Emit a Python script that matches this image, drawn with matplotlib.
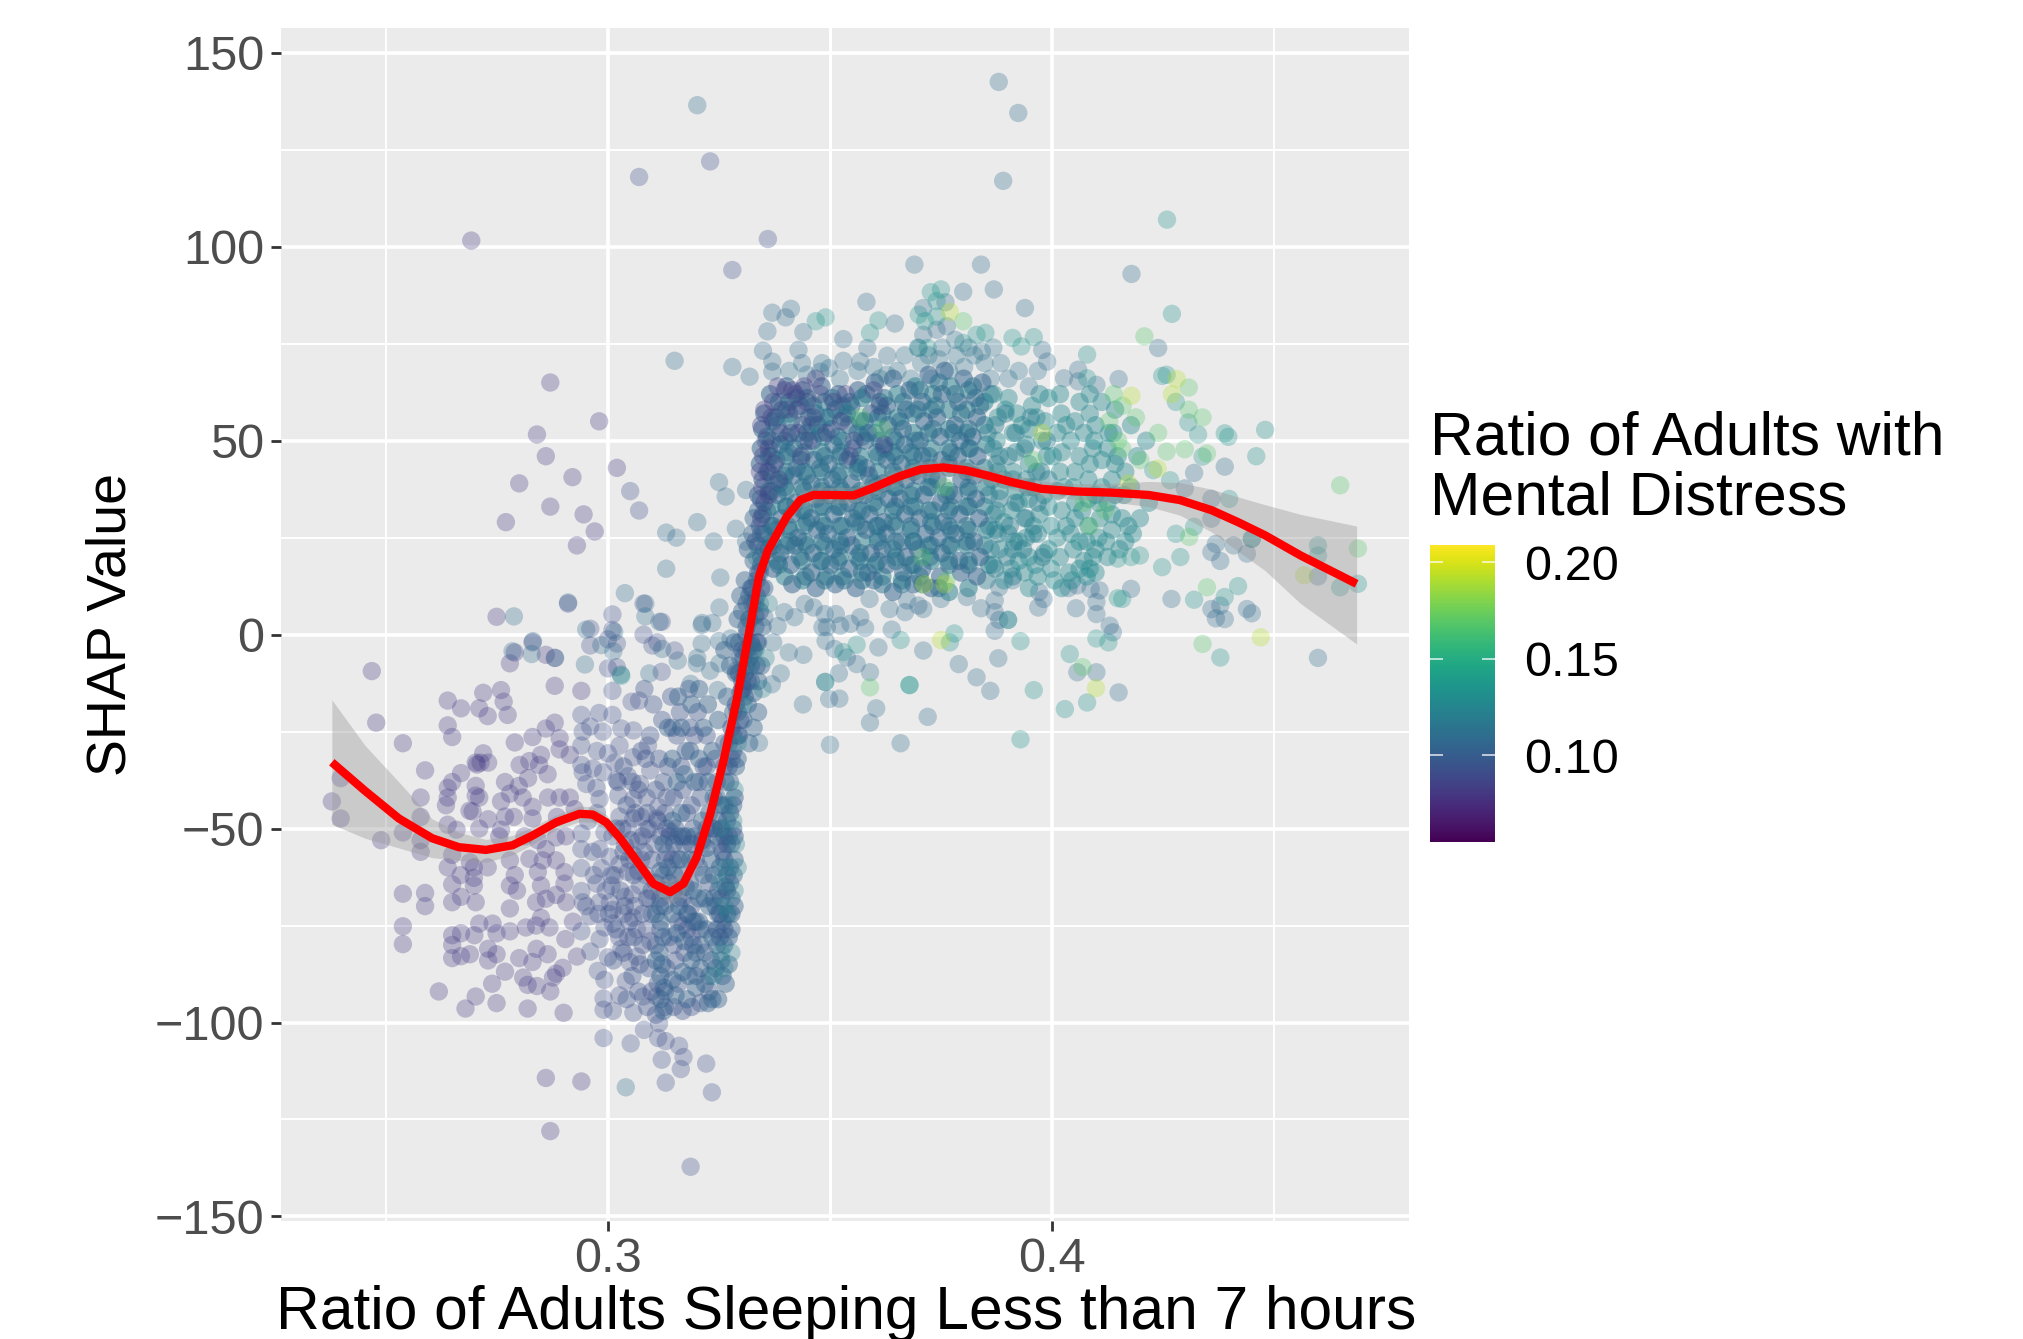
"""SHAP dependence plot: sleep ratio vs SHAP value, coloured by mental distress."""

import matplotlib
matplotlib.use("Agg")
import matplotlib.pyplot as plt
from matplotlib.cm import ScalarMappable
from matplotlib.colors import Normalize
from matplotlib.ticker import FixedLocator

plt.rcParams["font.family"] = ["Liberation Sans", "DejaVu Sans"]

W, H = 2023, 1339
MD_MIN, MD_MAX = 0.0554, 0.2092

X_MAJOR = [0.3, 0.4]
X_MINOR = [0.25, 0.35, 0.45]
Y_MAJOR = [-150, -100, -50, 0, 50, 100, 150]
Y_MINOR = [-125, -75, -25, 25, 75, 125]
Y_LABELS = ["\u2212150", "\u2212100", "\u221250", "0", "50", "100", "150"]
CBAR_TICKS = [0.10, 0.15, 0.20]

SMOOTH_X = [.2378, .2453, .2529, .2604, .2664, .2725, .2785, .2830, .2883, .2936, .2966, .2996, .3026, .3064, .3102,
            .3140, .3170, .3200, .3230, .3260, .3290, .3320, .3340, .3360, .3377, .3402, .3433, .3463, .3503, .3553,
            .3594, .3654, .3704, .3755, .3805, .3855, .3906, .3976, .4057, .4137, .4218, .4288, .4359, .4419, .4480,
            .4560, .4686]
SMOOTH_Y = [-32.9, -40.3, -47.4, -52.5, -54.8, -55.5, -54.3, -51.8, -48.4, -46.2, -46.4, -48.4, -52.3, -58.2, -64.2,
            -66.4, -64.2, -57.3, -46.4, -32.6, -16.8, 2, 15, 21.7, 25.2, 30.3, 34.7, 36, 36, 35.9,
            37.7, 40.7, 42.6, 43.1, 42.4, 41, 39.4, 37.6, 36.9, 36.6, 36, 34.7, 32.1, 29, 25.6,
            20.4, 13.1]
BAND_HI = [-16.8, -28.6, -38, -47.5, -51, -52.8, -51.8, -49.5, -46.5, -44.2, -44.4, -46.4, -50.3, -56.2, -62.2,
           -63.4, -61.2, -54.3, -43.4, -29.6, -14, 4.5, 17, 24, 27.2, 32.3, 36.7, 38, 38, 37.9,
           39.7, 42.7, 44.6, 45.1, 44.4, 43, 41.4, 39.6, 38.9, 39, 39.5, 39.2, 37.5, 35.5, 33.5,
           31, 28]
BAND_LO = [-48.9, -52.5, -55, -57.5, -58.2, -58.7, -56.8, -54.1, -50.3, -48.2, -48.4, -50.4, -54.3, -60.2, -66.2,
           -69.4, -67.2, -60.3, -49.4, -35.6, -19.6, -0.5, 13, 19.4, 23.2, 28.3, 32.7, 34, 34, 33.9,
           35.7, 38.7, 40.6, 41.1, 40.4, 39, 37.4, 35.6, 34.9, 34.2, 33, 30.8, 26.5, 21.5, 16.5,
           8, -2.4]

# each group shares one mental-distress value
SPARSE_PURPLE_MD = 0.082
SPARSE_PURPLE = [
    (.2692,101.6),(.287,65),(.298,55),(.284,51.6),(.286,46),(.302,43),(.280,39),(.292,40.6),(.287,33),(.277,29),
    (.2945,31),(.297,26.6),(.293,23),(.2468,-9.4),(.2478,-22.7),(.2538,-28),(.2398,-37),(.2378,-43),(.2398,-47.4),
    (.2489,-53),(.2588,-35),(.2578,-42),(.2578,-47),(.2538,-51),(.2578,-53),(.2578,-56),(.2639,-17),(.2669,-19),
    (.2639,-23.4),(.2649,-26.4),(.2710,-19),(.2719,-15),(.2729,-21),(.2759,-14.3),(.2765,-17.3),(.2774,-20.7),
    (.2749,4.6),(.2779,-7.4),(.2790,-4.6),(.2830,-2),(.2860,-5.2),(.2880,-6),(.2880,-13.2),(.2940,-14.5),(.2910,8),
    (.2639,-39.5),(.2649,-38),(.2669,-35.7),(.2639,-42),(.2702,-33),(.2705,-33.5),(.2719,-30.6),(.2713,-33),(.273,-33),
    (.2702,-39),(.2702,-41.5),(.271,-42),(.2695,-45.6),(.2688,-45.4),(.273,-47.6),(.271,-50),(.2639,-49),(.2659,-50.3),
    (.2649,-56.8),(.2639,-60),(.2689,-58.7),(.2698,-60),(.2698,-62.7),(.2698,-64.7),(.2729,-60),(.2649,-64.4),
    (.2669,-67.6),(.2649,-69),(.2702,-69),(.2538,-66.8),(.2588,-66.6),(.2588,-70),(.2538,-75.2),(.2538,-79.8),
    (.2649,-77.5),(.2649,-80),(.2649,-83.4),(.2669,-77),(.2669,-82.9),(.2689,-82.4),(.2699,-77.5),(.271,-74.5),
    (.273,-81),(.273,-84),(.2749,-82.4),(.274,-74.5),(.2749,-77),(.2779,-76.5),(.2779,-70.6),(.2779,-64.7),(.2779,-58.2),
    (.2768,-38),(.2759,-43),(.2779,-41),(.2799,-39),(.2808,-42),(.2768,-46.9),(.2759,-50.3),(.279,-27.8),(.283,-26.4),
    (.286,-24.2),(.288,-22.7),(.2891,-26.7),(.2849,-31),(.2801,-33.6),(.2823,-32.6),(.2845,-33.6),(.2864,-36),
    (.2891,-29.6),(.2914,-31),(.283,-44.4),(.283,-47.4),(.2891,-42),(.2914,-42),(.2883,-52.3),(.286,-55.3),(.2883,-58.2),
    (.2823,-57.8),(.2853,-58.2),(.2842,-61.2),(.2849,-64.7),(.2902,-61.2),(.2902,-64.2),(.2883,-67.1),(.286,-68.1),
    (.2838,-69),(.2906,-69),(.2815,-75.5),(.2838,-75),(.2868,-75.5),(.2849,-73),(.2921,-74),(.2904,-78.5),(.2839,-81),
    (.28,-83.4),(.283,-84.4),(.2864,-82.4),(.293,-83),(.2768,-86.9),(.2739,-90),(.2809,-88.4),(.2819,-90.3),(.2840,-90.6),
    (.2870,-92),(.2876,-88.4),(.2898,-85.9),(.2883,-87.4),(.2619,-92),(.2702,-93.3),(.2679,-96.4),(.2749,-95),(.2819,-96.4),
    (.29,-97.5),(.287,-128),(.294,-115.2),(.286,-114.3),(.279,-62),(.2795,-66),(.2755,-52),(.2635,-44),(.2668,-62),
    (.2925,-45),(.2905,-52),(.2885,-47),(.2865,-42),(.282,-37),(.2788,-47),(.2812,-52),(.2842,-53),
]

MID_PURPLE_MD = 0.092
MID_PURPLE = [
    (.307,118),(.323,122),(.336,102),(.328,94),(.305,37),(.307,32),(.296,1.5),(.296,-2.8),(.301,5.2),(.301,1.2),(.3,-1.2),
    (.302,-2.3),(.3,-8.7),(.302,-8.4),(.301,-14.5),(.308,8),(.3121,3.3),(.308,0),(.31,-2.8),(.3111,-2),(.315,-4.1),
    (.3121,-9.6),(.294,-20.7),(.296,-23.7),(.298,-20.2),(.301,-20.7),(.2943,-25),(.2988,-25),(.303,-24.2),(.3053,-17.3),
    (.307,-17),(.3057,-24.7),(.294,-28.6),(.3,-30.6),(.3026,-28.6),(.309,-28.6),(.3057,-31.6),(.2943,-35.5),(.2966,-34.5),
    (.2989,-35.5),(.294,-33.6),(.3045,-36.5),(.3072,-38.5),(.3019,-37.5),(.2974,-39.5),(.2951,-38.5),(.2981,-42.4),
    (.3023,-41.5),(.3057,-42.4),(.3087,-42),(.3113,-44.4),(.3132,-42),(.3026,-46.9),(.3057,-47.4),(.3087,-50.3),
    (.311,-47.4),(.314,-50.8),(.3132,-56.3),(.3068,-53.3),(.3038,-54.3),(.294,-51.3),(.294,-55.3),(.294,-60.2),
    (.2981,-55.3),(.3004,-57.3),(.3026,-59.2),(.2985,-60.2),(.2974,-64.2),(.3008,-64.7),(.3045,-61.2),(.3072,-64.7),
    (.3038,-67.6),(.3004,-69),(.2981,-69),(.306,-70),(.3094,-68.1),(.294,-66.1),(.2943,-69),(.296,-72.6),(.294,-76.5),
    (.2992,-75.5),(.3011,-71),(.3045,-78),(.3087,-76),(.3011,-74.5),(.3057,-73),(.296,-81.7),(.3,-83.2),(.3049,-84.4),
    (.2981,-78.5),(.3030,-81),(.2977,-86.7),(.2992,-89),(.299,-93.8),(.299,-96.7),(.3011,-97),(.3026,-93),(.304,-89.3),
    (.3057,-97.5),(.3079,-93.3),(.3109,-93.3),(.299,-104),(.3051,-105.4),(.3081,-101.9),(.3115,-100.2),(.3113,-104),
    (.313,-104.8),(.316,-106),(.317,-108.9),(.3164,-112),(.3121,-109.6),(.3221,-110.6),(.3234,-118),(.313,-115.5),
    (.3186,-137.2),(.2951,-70),(.2968,-62),(.2992,-51),(.2975,-46),(.3015,-62),(.3035,-72),(.3075,-58),(.3055,-67),
    (.2965,-56),(.2955,-48),(.2975,-30),(.3015,-33),(.3095,-35),(.3105,-54),(.3085,-62),(.3025,-78),(.3065,-83),
    (.3010,-52),(.3045,-50),(.2995,-66),(.3058,-57),(.3075,-47),(.3095,-79),(.3065,-76),(.2978,-72),
]

LOWER_DENSE_MD = 0.094
LOWER_DENSE = [
    (.3022,-38),(.3042,-44),(.3068,-40),(.3088,-46),(.3108,-40),(.3128,-46),(.3148,-42),(.3168,-40),(.3188,-44),(.3208,-42),
    (.3018,-50),(.3035,-56),(.3052,-53),(.3078,-52),(.3098,-58),(.3118,-52),(.3138,-52),(.3158,-58),(.3178,-46),(.3198,-58),
    (.3008,-62),(.3028,-66),(.3048,-58),(.3068,-61),(.3088,-68),(.3108,-64),(.3128,-70),(.3148,-66),(.3168,-68),(.3188,-70),
    (.3002,-72),(.3018,-76),(.3038,-70),(.3058,-78),(.3078,-72),(.3098,-72),(.3118,-76),(.3138,-78),(.3158,-74),(.3178,-76),
    (.3012,-84),(.3035,-82),(.3055,-88),(.3072,-85),(.3092,-86),(.3112,-90),(.3132,-86),(.3152,-84),(.3172,-82),(.3192,-80),
    (.3042,-94),(.3068,-92),(.3088,-96),(.3108,-98),(.3128,-96),(.3148,-96),(.3168,-97),(.3188,-96),(.3208,-95),(.3228,-92),
    (.3215,-34),(.3195,-26),(.3175,-30),(.3155,-26),(.3135,-34),(.3115,-32),(.3095,-26),(.3075,-30),(.3055,-38),(.3035,-34),
    (.3182,-14),(.3162,-20),(.3142,-16),(.3122,-22),(.3102,-18),(.3082,-14),(.3202,-20),(.3222,-26),(.3242,-32),(.3262,-28),
    (.3125,-62),(.3145,-58),(.3165,-62),(.3185,-64),(.3205,-60),(.3118,-68),(.3138,-64),(.3158,-68),(.3178,-72),(.3198,-74),
    (.3032,-50),(.3062,-46),(.3082,-56),(.3112,-48),(.3152,-50),(.3192,-50),(.3212,-54),(.3232,-50),(.3252,-54),(.3222,-50),
    (.3172,-54),(.3132,-50),(.3092,-50),(.3058,-62),(.3098,-66),(.3128,-58),(.3168,-75),(.3208,-76),(.3228,-64),(.3248,-66),
    (.3048,-74),(.3078,-80),(.3108,-80),(.3148,-80),(.3188,-78),(.3218,-82),(.3128,-92),(.3158,-90),(.3198,-88),(.3098,-92),
    (.3085,-32),(.3125,-38),(.3165,-34),(.3205,-38),(.3145,-24),(.3185,-24),(.3222,-34),(.3245,-38),(.3262,-34),(.3278,-32),
]

SPARSE_BLUE_MD = 0.108
SPARSE_BLUE = [
    (.3201,136.5),(.388,142.5),(.3924,134.5),(.389,117),(.315,70.6),(.3211,2.5),(.3211,-2.3),(.3251,7),
    (.3251,-7.4),(.32,-7.4),(.325,39.3),(.3265,35.6),(.3311,37.3),(.3201,29),(.3131,26.3),(.3154,25),(.3131,17),(.3238,24),
    (.3288,27.3),(.3253,14.7),(.3311,24),(.3084,8),(.3038,10.7),(.3084,4.7),(.3116,3.3),(.3212,3),(.3235,3),(.325,-1.7),
    (.3276,-1),(.3014,.7),(.3012,-4.3),(.2951,1.3),(.2985,-2.7),(.291,8.3),(.2788,4.7),(.2831,-1.7),(.2828,-5),(.2785,-4.3),
    (.2881,-6),(.2948,-7.7),(.3029,-10.3),(.3093,-10),(.3122,-3.7),(.3157,-6.7),(.3201,-6),(.323,-9.3),(.3186,-12.7),
    (.3247,-14.3),(.3288,-9.3),(.304,-116.7),(.337,83),(.3412,84),(.34,81.8),(.3359,78.2),(.3349,73.2),(.3429,73.4),
    (.344,78),(.337,70.4),(.3437,70),(.328,69),(.3319,66.5),(.337,67.8),(.3582,85.8),(.3646,80.2),(.353,76.2),(.3584,73.9),
    (.3498,68.7),(.3478,67.8),(.353,70.6),(.3568,70.4),(.3629,71.9),(.38,88.4),(.369,95.4),(.384,95.4),(.4179,93),(.4239,73.9),
    (.3869,89),(.3939,84.2),(.376,85.7),(.371,84.2),(.3763,79.5),(.374,78.6),(.371,77.3),(.3978,73.4),(.3989,70.4),(.4027,66.1),
    (.4059,68.3),(.4059,65.3),(.41,64.4),(.415,65.9),(.4389,43.3),(.432,41.7),(.4299,37.7),(.4359,35),(.4359,29.9),(.4369,23.4),
    (.4359,21.3),(.4409,23),(.4439,20.9),(.445,24.7),(.4379,19),(.4599,15),(.4379,7.5),(.4359,6.6),(.4369,4.2),(.4389,4),
    (.4439,6.6),(.445,5.5),(.4269,9.2),(.4178,11.8),(.415,-14.9),(.4599,-6),(.4137,0.6),(.413,2.3),(.41,-9.7),(.4057,-9.7),
    (.3861,-14.5),(.383,-11),(.379,-7.6),(.3879,-6.1),(.372,-21.2),(.359,-22.7),(.3604,-19),(.3439,-18),(.3498,-16.6),
    (.3521,-16.5),(.3489,-12.2),(.352,-10),(.3369,-12.8),(.3389,-10),(.334,-27.9),(.3407,-4.6),(.344,-5.2),(.349,-1.6),
    (.351,-3.7),(.3538,-5.9),(.356,-7.6),(.359,-9.7),(.3659,-28),(.35,-28.4),(.3609,-3.3),(.371,-4.1),(.3639,1.3),(.3579,1.7),
    (.3493,1.9),(.3523,2.3),(.3546,2.8),(.3568,4.5),(.3483,1.9),(.3372,-2),(.3382,2.2),(.3352,4.5),(.3397,5.8),(.342,4.5),
    (.3443,7.9),(.3463,7),(.3488,5.3),(.3513,5.3),(.3871,1),(.3881,3.8),(.3901,3.8),(.3871,8.8),(.3871,5.8),(.384,6.8),
    (.3808,9.7),(.3881,12.2),(.3911,14),(.3971,11),(.3981,9.2),(.3969,7),(.4054,6.8),(.41,5.3),(.41,8.4),(.4037,12),
    (.4057,12.7),(.4087,11.8),(.4107,11.4),(.3699,7.5),(.3669,5.8),(.3589,9.2),(.3634,6.6),(.375,9.2),(.371,6.6),(.3674,8.8),
]

SPARSE_TEAL_MD = 0.135
SPARSE_TEAL = [
    (.4259,107),(.427,82.7),(.303,-10.6),(.374,86),(.375,89),(.3727,88.3),(.37,82.5),(.374,82),(.3714,80.8),(.3468,80.8),
    (.349,81.8),(.3609,81),(.359,77.8),(.37,73.9),(.372,73.9),(.38,75.2),(.383,77.3),(.385,77.8),(.3911,76.5),(.3959,76.7),
    (.3931,74.3),(.4079,72.2),(.4079,66.1),(.4258,67),(.4248,66.7),(.4279,60),(.4307,54.7),(.4329,51.6),(.4389,51.9),
    (.4397,51),(.448,52.8),(.446,46),(.4339,45.9),(.4228,42.4),(.4266,39.8),(.4399,35),(.432,27.8),(.4279,26),(.445,24.7),
    (.4289,20),(.4248,17.4),(.4178,20),(.4198,20.4),(.4148,19.6),(.4599,23),(.4599,20.4),(.4649,12.2),(.4689,13.1),(.4419,12.5),
    (.4389,9.7),(.432,9),(.4148,9.4),(.4158,9.2),(.4379,-5.9),(.4127,-2),(.41,-1),(.404,-5),(.4079,-17.5),(.4029,-19.2),
    (.3959,-14.3),(.3929,-27),(.3929,-1.7),(.3679,-13),(.3679,-13),(.3659,-1.4),(.3489,-12.2),
    (.353,-4.5),(.356,-2.6),(.378,0.3),(.377,-2),(.3901,3.8),
]

LIGHT_GREEN_MD = 0.168
LIGHT_GREEN = [
    (.38,80.8),(.4308,63.7),(.4308,58),(.4339,56),(.4258,47.2),(.4349,46.7),(.4299,47.8),
    (.4649,38.5),(.4689,22.2),(.4309,25.2),(.4349,12.2),(.4339,-2.4),(.359,-13.6),(.4208,76.9),(.4069,-8.4),
    (.4139,62),(.4159,59),(.4189,56),(.4129,55),(.4149,50),(.4199,45),(.4239,52),(.4158,48),(.3618,53),(.3568,56),
    (.3958,45),(.4085,28),(.4072,34),(.3758,38),(.3708,20),(.3762,14),(.4119,32),
]

YELLOW_MD = 0.192
YELLOW = [
    (.377,83.2),(.4281,65.9),(.4179,61.6),(.427,62),(.4238,42.8),(.447,-0.7),(.375,-1.4),(.4099,-13.8),(.4568,15.3),
    (.3978,52),(.3758,13),(.3712,13),(.4172,39),
]

# jump in the curve: columns of points packed around x = 0.31 - 0.335
JUMP_BLUE_MD = 0.103
JUMP_BLUE = [
    (.3118,-74),(.3124,-78),(.3116,-82),(.3122,-85),(.3118,-88),(.3126,-91),(.3119,-94),(.3125,-97),(.3117,-70),(.3128,-66),
    (.3135,-60),(.3145,-72),(.3155,-77),(.316,-70),(.315,-62),(.3165,-58),(.3175,-65),(.318,-72),(.3172,-79),(.3185,-58),
    (.3195,-52),(.3192,-66),(.3205,-74),(.3198,-82),(.3215,-62),(.3222,-55),(.3212,-48),(.3228,-70),(.3235,-78),(.3242,-86),
    (.3218,-90),(.3198,-91),(.3168,-87),(.3178,-94),(.3145,-89),(.3152,-93),(.3238,-62),(.3245,-52),(.3255,-44),(.3262,-58),
    (.3255,-68),(.3268,-72),(.3262,-80),(.3272,-85),(.3258,-88),(.3275,-64),(.3278,-54),(.3282,-44),(.3285,-70),(.3268,-48),
    (.3275,-38),(.3288,-34),(.3272,-28),(.3295,-26),(.3282,-20),(.3298,-15),(.3288,-10),(.3305,-6),(.3295,-2),(.3312,2),
    (.3302,6),(.3318,10),(.3308,14),(.3322,-12),(.3315,-18),(.3325,-3),(.3332,5),(.3335,14),(.3328,19),(.3338,23),
    (.3325,26),(.3338,-20),(.3345,-8),(.3352,12),(.3305,-22),(.3292,-32),(.3265,-38),(.3245,-42),(.3225,-38),(.3205,-32),
    (.3235,-30),(.3215,-24),(.3195,-38),(.3185,-30),(.3172,-36),(.3165,-46),(.3155,-38),(.3145,-32),(.3135,-24),(.3165,-24),
    (.3188,-18),(.3158,-16),(.3205,-14),(.3225,-18),(.3248,-22),(.3268,-16),(.3285,-2),(.3275,-8),(.3262,-4),(.3298,10),
    (.3275,-60),(.3283,-62),(.3265,-65),(.3248,-72),(.3232,-84),(.3208,-86),(.3188,-84),(.3265,-90),(.3248,-94),(.3225,-95),
    (.3205,-68),(.3222,-76),(.3178,-52),(.3158,-52),(.3145,-48),(.3125,-54),(.3118,-61),(.3108,-72),(.3108,-84),
    (.3278,-76),(.3272,-52),(.3262,-52),(.3252,-78),(.3242,-70),(.3232,-58),(.3305,-14),(.3312,-4),(.3318,-28),(.3328,-15),
    (.3338,-2),(.3345,18),(.3315,22),(.3325,8),(.3292,4),(.3335,-8),
    (.3282,-26),(.3292,-20),(.3302,-12),(.3312,-8),(.3322,-2),(.3332,2),(.3312,8),(.3322,12),(.3335,10),(.3342,16),
    (.3298,-6),(.3308,-16),(.3318,-6),(.3328,-24),(.3338,-12),(.3348,2),(.3328,30),(.3338,32),(.3345,26),(.3352,22),
    (.3238,-68),(.3252,-60),(.3258,-74),(.3268,-62),(.3272,-78),(.3278,-68),(.3285,-58),(.3282,-50),(.3262,-44),(.3248,-48),
    (.3228,-46),(.3238,-42),(.3218,-68),(.3208,-80),(.3228,-88),(.3245,-80),(.3255,-84),(.3235,-94),(.3192,-74),(.3182,-88),
]

COLUMN_DARK_MD = 0.098
COLUMN_DARK = [
    (.3272,-34),(.3282,-30),(.3278,-24),(.3292,-26),(.3288,-18),(.3298,-22),(.3302,-14),(.3295,-10),(.3308,-10),(.3302,-4),
    (.3315,-12),(.3312,0),(.3322,-8),(.3318,4),(.3328,-4),(.3325,12),(.3335,-2),(.3332,8),(.3342,6),(.3338,16),(.3345,12),
    (.3332,24),(.3342,28),(.3338,36),(.3345,20),(.3285,-42),(.3275,-46),(.3268,-54),(.3285,-52),(.3255,-50),(.3238,-50),
    (.3212,-53),(.3188,-54),(.3168,-52),(.3148,-54),(.3258,-56),(.3268,-66),(.3252,-72),(.3278,-72),(.3262,-76),(.3245,-76),
]

TEAL_EDGE_MD = 0.122
TEAL_EDGE = [
    (.3282,-48),(.3288,-54),(.3292,-60),(.3285,-66),(.3272,-72),(.3278,-82),(.3262,-86),(.3265,-60),(.3258,-50),(.3272,-44),
    (.3285,-40),(.3292,-28),(.3305,-18),(.3318,-8),(.3332,-4),(.3342,8),(.3335,20),(.3322,4),(.3348,-14),(.3355,-6),
    (.3362,8),(.3255,-82),(.3238,-88),(.3262,-70),(.3252,-64),
]

CORE_PURPLE_MD = 0.084
CORE_PURPLE = [
    (.3345,54),(.3355,50),(.3349,46),(.3358,42),(.3348,38),(.3362,36),(.3375,44),(.3388,52),(.3402,58),(.3415,63),
    (.3398,63),(.3425,58),(.3438,54),(.3412,52),(.3448,60),(.3462,56),(.3452,50),(.3478,62),(.3492,52),(.3508,60),
    (.3525,55),(.3555,50),(.3598,63),(.3612,59),(.3622,49),(.3435,46),(.3385,40),(.3368,56),(.3535,62),(.3545,46),
    (.3345,30),(.3352,34),(.3342,42),(.3352,58),(.3362,48),(.3372,60),(.3382,64),(.3422,62),(.3442,64),(.3468,66),
]

CORE_BLUE_MD = 0.103
CORE_BLUE = [
    (.3365,62),(.3402,64),(.3438,63),(.3481,64),(.3519,62),(.3563,63),(.3601,65),(.3642,66),(.3679,63),(.3722,67),(.3758,68),(.3801,66),(.3843,65),
    (.3352,57),(.3392,58),(.3433,59),(.3468,57),(.3512,58),(.3548,59),(.3592,57),(.3628,59),(.3672,58),(.3708,60),(.3752,62),(.3789,60),(.3828,61),
    (.3347,53),(.3381,54),(.3428,52),(.3472,54),(.3503,53),(.3542,54),(.3586,52),(.3631,54),(.3664,53),(.3712,55),(.3741,56),(.3782,54),(.3831,56),
    (.3344,48),(.3388,49),(.3419,48),(.3461,50),(.3508,49),(.3551,48),(.3579,50),(.3622,48),(.3668,49),(.3702,50),(.3748,51),(.3793,50),(.3821,51),
    (.3342,44),(.3379,45),(.3425,43),(.3464,45),(.3497,44),(.3539,45),(.3582,43),(.3628,45),(.3661,44),(.3708,46),(.3751,45),(.3788,46),(.3832,46),
    (.3348,40),(.3386,39),(.3418,41),(.3458,39),(.3505,40),(.3548,39),(.3588,41),(.3619,39),(.3672,40),(.3699,41),(.3742,40),(.3796,40),(.3825,41),
    (.3344,35),(.3382,36),(.3422,34),(.3469,35),(.3498,36),(.3541,34),(.3578,36),(.3632,35),(.3658,35),(.3711,36),(.3749,34),(.3779,36),(.3829,35),
    (.3349,31),(.3391,30),(.3415,31),(.3457,30),(.3508,31),(.3552,30),(.3589,31),(.3621,29),(.3669,31),(.3702,30),(.3755,29),(.3792,31),(.3836,30),
    (.3351,26),(.3378,27),(.3428,25),(.3471,27),(.3495,26),(.3538,25),(.3581,27),(.3627,26),(.3662,24),(.3715,26),(.3744,25),(.3783,26),(.3824,24),
    (.3362,22),(.3388,21),(.3421,23),(.3462,21),(.3509,22),(.3549,23),(.3592,21),(.3618,22),(.3671,20),(.3698,22),(.3752,21),(.3791,19),(.3838,20),
    (.3372,17),(.3412,18),(.3458,16),(.3501,18),(.3543,17),(.3585,16),(.3628,18),(.3665,16),(.3708,17),(.3748,15),(.3795,16),(.3831,15),
    (.3415,13),(.3468,12),(.3512,13),(.3558,12),(.3599,14),(.3642,11),(.3688,13),(.3728,12),
]

CORE_DEEP_MD = 0.112
CORE_DEEP = [
    (.3385,60),(.3425,61),(.3462,59),(.3505,61),(.3545,60),(.3582,62),(.3622,61),(.3665,60),(.3702,63),(.3745,65),(.3782,62),(.3822,64),
    (.3372,55),(.3408,57),(.3458,54),(.3498,56),(.3538,57),(.3578,55),(.3618,57),(.3658,55),(.3698,58),(.3738,59),(.3795,57),(.3838,59),
    (.3358,51),(.3398,50),(.3442,50),(.3478,52),(.3518,51),(.3562,52),(.3612,50),(.3642,51),(.3692,50),(.3732,53),(.3778,52),(.3812,53),
    (.3362,46),(.3405,47),(.3435,45),(.3488,46),(.3525,47),(.3565,44),(.3605,47),(.3648,46),(.3682,47),(.3722,46),(.3772,47),(.3815,48),
    (.3368,41),(.3402,42),(.3448,41),(.3478,43),(.3518,41),(.3562,43),(.3598,39),(.3642,42),(.3688,43),(.3728,41),(.3768,44),(.3808,42),
    (.3362,37),(.3398,38),(.3438,38),(.3482,38),(.3522,38),(.3558,36),(.3608,37),(.3648,38),(.3682,36),(.3722,38),(.3762,36),(.3812,37),
    (.3358,32),(.3402,33),(.3438,32),(.3478,33),(.3518,33),(.3562,32),(.3598,34),(.3642,32),(.3682,33),(.3722,32),(.3768,32),(.3808,33),
    (.3368,28),(.3408,27),(.3448,29),(.3488,28),(.3522,28),(.3558,29),(.3605,28),(.3648,28),(.3682,27),(.3728,29),(.3772,27),(.3812,27),
    (.3372,23),(.3402,23),(.3442,24),(.3482,24),(.3525,23),(.3568,21),(.3608,25),(.3642,22),(.3688,24),(.3722,23),(.3768,23),(.3808,24),
    (.3382,19),(.3432,20),(.3478,19),(.3518,19),(.3562,20),(.3602,18),(.3648,19),(.3682,18),(.3725,20),(.3768,18),(.3812,19),
    (.3445,15),(.3492,15),(.3532,14),(.3572,16),(.3618,13),(.3662,13),(.3702,15),(.3745,12),
]

CORE_TEAL_MD = 0.122
CORE_TEAL = [
    (.3408,60),(.3449,61),(.3488,60),(.3528,59),(.3572,61),(.3612,60),(.3652,62),(.3692,64),(.3732,62),(.3772,64),(.3812,63),
    (.3378,56),(.3412,55),(.3452,56),(.3492,56),(.3532,56),(.3568,55),(.3608,56),(.3652,56),(.3688,57),(.3728,58),(.3768,58),(.3808,58),(.3848,60),
    (.3368,50),(.3405,51),(.3448,52),(.3485,51),(.3528,50),(.3572,51),(.3602,52),(.3648,50),(.3688,52),(.3722,52),(.3768,53),(.3808,52),(.3848,54),
    (.3368,46),(.3402,46),(.3442,47),(.3482,47),(.3522,46),(.3568,46),(.3608,46),(.3642,47),(.3688,46),(.3728,48),(.3768,48),(.3812,48),(.3852,49),
    (.3362,42),(.3398,41),(.3442,42),(.3482,42),(.3522,42),(.3562,42),(.3608,42),(.3648,41),(.3688,42),(.3725,43),(.3768,43),(.3808,43),(.3848,43),
    (.3368,37),(.3402,37),(.3442,37),(.3482,37),(.3528,37),(.3568,37),(.3602,38),(.3645,38),(.3688,37),(.3728,38),(.3768,37),(.3812,38),(.3852,38),
    (.3368,33),(.3402,33),(.3442,32),(.3485,33),(.3522,33),(.3572,32),(.3608,33),(.3648,33),(.3692,33),(.3732,32),(.3772,33),(.3812,33),(.3848,33),
    (.3372,28),(.3405,28),(.3442,28),(.3482,29),(.3528,28),(.3568,28),(.3608,28),(.3642,29),(.3682,28),(.3732,28),(.3768,28),(.3808,28),(.3852,27),
    (.3368,24),(.3408,24),(.3448,23),(.3488,23),(.3522,24),(.3572,24),(.3608,24),(.3648,24),(.3688,24),(.3728,23),(.3772,23),(.3808,23),(.3848,23),
    (.3385,18),(.3438,19),(.3482,19),(.3522,20),(.3568,19),(.3608,19),(.3648,20),(.3688,18),(.3728,19),(.3768,19),(.3812,18),(.3858,18),
    (.3398,15),(.3438,14),(.3488,14),(.3528,15),(.3572,14),(.3618,15),(.3662,14),(.3708,13),(.3768,11),(.3812,12),
]

# softer step between the dark core and the looser teal points on its right
TRANSITION_MD = 0.118
TRANSITION = [
    (.3862,62),(.3895,57),(.3872,54),(.3918,52),(.3868,48),(.3902,46),(.3938,48),(.3875,44),(.3912,40),(.3865,40),
    (.3945,38),(.3882,35),(.3918,34),(.3868,31),(.3905,28),(.3942,30),(.3878,26),(.3915,24),(.3862,22),(.3898,20),
    (.3935,22),(.3872,17),(.3912,15),(.3958,26),(.3965,42),(.3968,34),(.3988,50),(.3978,20),(.3952,56),(.3992,40),
    (.3855,52),(.3858,36),(.3858,28),(.3852,14),
]

TOP_BUMP_MD = 0.112
TOP_BUMP = [
    (.3612,66),(.3652,68),(.3682,66),(.3705,70),(.3728,66),(.3745,71),(.3768,68),(.3785,72),(.3802,69),(.3825,72),(.3848,70),
    (.3862,66),(.3885,70),(.3902,66),(.3925,68),(.3668,72),(.3698,74),(.3722,72),(.3752,74),(.3782,76),(.3812,74),(.3842,73),
    (.3408,68),(.3448,67),(.3482,70),(.3522,66),(.3562,68),(.3598,69),(.3628,67),(.3868,74),(.3948,64),(.3968,68),
]

RIGHT_TEAL_MD = 0.128
RIGHT_TEAL = [
    (.3868,62),(.3902,61),(.3955,59),(.3992,61),(.3878,56),(.3921,57),(.3948,53),(.3985,55),(.4021,57),(.4052,55),(.4085,57),(.4112,60),(.4142,58),
    (.3875,50),(.3912,52),(.3942,49),(.3978,50),(.4012,52),(.4042,50),(.4072,52),(.4098,54),(.4128,52),(.4062,46),(.4092,48),(.3882,46),(.3918,47),
    (.3948,44),(.3988,46),(.4022,47),(.4052,42),(.4085,44),(.4112,45),(.4142,44),(.3878,42),(.3912,42),(.3942,40),(.3975,42),(.4018,42),(.4048,38),
    (.4082,40),(.4112,38),(.4135,40),(.4165,42),(.3882,37),(.3918,37),(.3948,35),(.3982,36),(.4012,37),(.4052,34),(.4082,35),(.4105,34),(.4142,36),
    (.3875,32),(.3908,32),(.3938,30),(.3972,31),(.3998,28),(.4022,32),(.4052,30),(.4082,28),(.4108,30),(.4135,31),(.4172,28),(.4198,30),(.4218,34),
    (.3872,27),(.3902,26),(.3942,25),(.3968,26),(.4012,25),(.4042,26),(.4078,24),(.4105,25),(.4135,27),(.4165,24),(.4182,26),(.3882,22),(.3912,22),
    (.3948,20),(.3982,21),(.4018,20),(.4048,22),(.4072,19),(.4092,20),(.3868,18),(.3908,17),(.3938,16),(.3968,15),(.3998,17),(.4038,16),(.4078,15),
    (.4098,16),(.4062,17),(.4085,17),(.4022,12),(.3948,12),(.4158,30),(.4178,38),(.4192,46),(.4212,50),(.4178,54),(.4148,46),
    (.3895,58),(.3932,54),(.3965,56),(.4002,46),(.4032,54),(.4062,60),(.4095,50),(.4125,48),(.3892,40),(.3925,34),(.3958,38),(.3992,33),(.4028,38),
    (.4068,32),(.4098,36),(.4125,34),(.3892,29),(.3925,24),(.3958,28),(.3992,22),(.4032,28),(.4062,24),(.4098,22),(.4125,20),(.3892,14),(.3925,19),
    (.3962,18),(.4005,14),(.4045,14),(.4122,24),(.4152,22),(.4162,36),(.4138,52),(.3972,62),(.4018,62),(.4085,62),
]


def add_points(ax, pts, md, norm, alpha=0.3):
    xs, ys = zip(*pts)
    ax.scatter(xs, ys, c=[md] * len(xs), cmap="viridis", norm=norm, s=175, alpha=alpha,
               linewidths=0, zorder=3)


def main():
    fig = plt.figure(figsize=(W / 100, H / 100), dpi=100, facecolor="white")
    ax = fig.add_axes([281 / W, 1 - 1220.7 / H, (1409 - 281) / W, (1220.7 - 28.4) / H])
    ax.set_facecolor("#EBEBEB")
    for s in ax.spines.values():
        s.set_visible(False)
    ax.set_xlim(0.22635, 0.4804)
    ax.set_ylim(-151.1, 156.3)

    # ggplot style grid
    ax.set_xticks(X_MAJOR)
    ax.set_xticklabels(["0.3", "0.4"])
    ax.xaxis.set_minor_locator(FixedLocator(X_MINOR))
    ax.set_yticks(Y_MAJOR)
    ax.set_yticklabels(Y_LABELS)
    ax.yaxis.set_minor_locator(FixedLocator(Y_MINOR))
    ax.grid(True, which="major", color="white", linewidth=2.6, zorder=1)
    ax.grid(True, which="minor", color="white", linewidth=1.4, zorder=1)
    # 0.35 reads nearly as strong as the majors on the picture
    ax.axvline(0.35, color="white", linewidth=2.2, zorder=1)
    ax.set_axisbelow(True)
    ax.tick_params(which="minor", length=0)
    ax.tick_params(which="major", length=7, width=2, color="#333333", labelcolor="#4D4D4D",
                   labelsize=35, pad=5)

    norm = Normalize(MD_MIN, MD_MAX)
    add_points(ax, SPARSE_PURPLE, SPARSE_PURPLE_MD, norm)
    add_points(ax, MID_PURPLE, MID_PURPLE_MD, norm)
    add_points(ax, LOWER_DENSE, LOWER_DENSE_MD, norm, alpha=0.36)
    add_points(ax, SPARSE_BLUE, SPARSE_BLUE_MD, norm)
    add_points(ax, SPARSE_TEAL, SPARSE_TEAL_MD, norm)
    add_points(ax, JUMP_BLUE, JUMP_BLUE_MD, norm, alpha=0.42)
    add_points(ax, COLUMN_DARK, COLUMN_DARK_MD, norm, alpha=0.45)
    add_points(ax, TEAL_EDGE, TEAL_EDGE_MD, norm)
    add_points(ax, RIGHT_TEAL, RIGHT_TEAL_MD, norm, alpha=0.4)
    add_points(ax, TRANSITION, TRANSITION_MD, norm, alpha=0.4)
    add_points(ax, TOP_BUMP, TOP_BUMP_MD, norm)
    add_points(ax, CORE_TEAL, CORE_TEAL_MD, norm, alpha=0.5)
    add_points(ax, CORE_BLUE, CORE_BLUE_MD, norm, alpha=0.5)
    add_points(ax, CORE_DEEP, CORE_DEEP_MD, norm, alpha=0.5)
    add_points(ax, CORE_PURPLE, CORE_PURPLE_MD, norm, alpha=0.35)
    add_points(ax, LIGHT_GREEN, LIGHT_GREEN_MD, norm)
    add_points(ax, YELLOW, YELLOW_MD, norm)

    ax.fill_between(SMOOTH_X, BAND_LO, BAND_HI, color="#999999", alpha=0.4, linewidth=0, zorder=4)
    ax.plot(SMOOTH_X, SMOOTH_Y, color="red", linewidth=6, solid_capstyle="butt", zorder=5)

    fig.text(846 / W, 1 - 1313 / H, "Ratio of Adults Sleeping Less than 7 hours",
             fontsize=43.6, color="black", ha="center", va="center")
    fig.text(112 / W, 1 - 624 / H, "SHAP Value", fontsize=40, color="black", rotation=90,
             ha="center", va="center")

    # colour bar legend
    cax = fig.add_axes([1430 / W, 1 - 841.5 / H, 65 / W, (841.5 - 544.5) / H])
    cb = fig.colorbar(ScalarMappable(norm=norm, cmap="viridis"), cax=cax)
    cb.outline.set_visible(False)
    cb.set_ticks(CBAR_TICKS)
    cb.set_ticklabels(["0.10", "0.15", "0.20"])
    cax.tick_params(length=0, labelsize=35, pad=21, labelcolor="black")
    cax.hlines(CBAR_TICKS, 0, 0.2, color="white", alpha=0.8, linewidth=1.2, transform=cax.get_yaxis_transform())
    cax.hlines(CBAR_TICKS, 0.8, 1, color="white", alpha=0.8, linewidth=1.2, transform=cax.get_yaxis_transform())
    fig.text(1430 / W, 1 - 469 / H, "Ratio of Adults with\nMental Distress", fontsize=43.6,
             color="black", ha="left", va="center", linespacing=1.05)

    fig.savefig("out.png", dpi=100, facecolor="white")


if __name__ == "__main__":
    main()
